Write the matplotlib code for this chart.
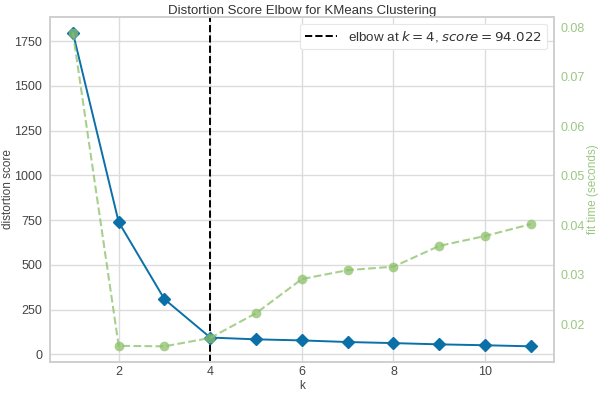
import matplotlib
matplotlib.use("Agg")
import matplotlib.pyplot as plt

k_values = [1, 2, 3, 4, 5, 6, 7, 8, 9, 10, 11]
distortion = [1797, 739, 308, 94.022, 84, 78, 69, 63, 56, 51, 45]
fit_time = [0.0789, 0.0156, 0.0155, 0.0172, 0.0222, 0.0291, 0.0309, 0.0316, 0.0358, 0.0378, 0.0402]
elbow_k = 4
elbow_score = 94.022

plt.rcParams['font.family'] = ['Liberation Sans', 'DejaVu Sans']

fig = plt.figure(figsize=(6, 3.94), dpi=100)
ax = fig.add_axes([0.0833, 0.0812, 0.8397, 0.8757])

grid_c = '#dcdcdc'
blue = '#0b6fa8'
text_c = '#444444'
green_txt = '#9cc784'

ax.set_facecolor('white')
ax.grid(True, color=grid_c, linewidth=1.0)
ax.set_axisbelow(True)
for s in ax.spines.values():
    s.set_color('#cfcfcf')
    s.set_linewidth(1.2)

ax.plot(k_values, distortion, color=blue, marker='D', markersize=6, linewidth=1.4, zorder=3)
ax.axvline(elbow_k, color='black', linestyle='--', linewidth=1.4,
           label=f'elbow at $k={elbow_k}$, $score={elbow_score:.3f}$')

ax.set_xticks([2, 4, 6, 8, 10])
ax.set_yticks([0, 250, 500, 750, 1000, 1250, 1500, 1750])
ax.tick_params(axis='y', length=0, labelsize=9, labelcolor=text_c, pad=5.5)
ax.tick_params(axis='x', length=0, labelsize=9, labelcolor=text_c, pad=2.6)
ax.set_xlabel('k', fontsize=8.5, color=text_c, labelpad=2)
ax.set_ylabel('distortion score', fontsize=8.5, color=text_c, labelpad=0)
ax.set_title('Distortion Score Elbow for KMeans Clustering', fontsize=9.5, color='#333333', pad=1.8)

ax2 = ax.twinx()
ax2.plot(k_values, fit_time, color='#8cc068', marker='o', markersize=7, markeredgewidth=0,
         linestyle='--', linewidth=1.5, alpha=0.75)
ax2.grid(False)
ax2.set_yticks([0.02, 0.03, 0.04, 0.05, 0.06, 0.07, 0.08])
ax2.tick_params(axis='y', length=0, labelsize=9, labelcolor=green_txt, pad=5)
ax2.set_ylabel('fit time (seconds)', fontsize=8.5, color=green_txt, labelpad=1.2)
for s in ax2.spines.values():
    s.set_color('#cfcfcf')
    s.set_linewidth(1.2)

leg = ax.legend(loc='upper right', fontsize=9.6, frameon=True, facecolor='white',
                edgecolor='#e6e6e6', framealpha=1.0, handlelength=2.4,
                borderpad=0.4, borderaxespad=0.5)
leg.get_frame().set_linewidth(0.8)
for t in leg.get_texts():
    t.set_color('#333333')
leg.remove()
ax2.add_artist(leg)

fig.savefig('out.png', dpi=100)
